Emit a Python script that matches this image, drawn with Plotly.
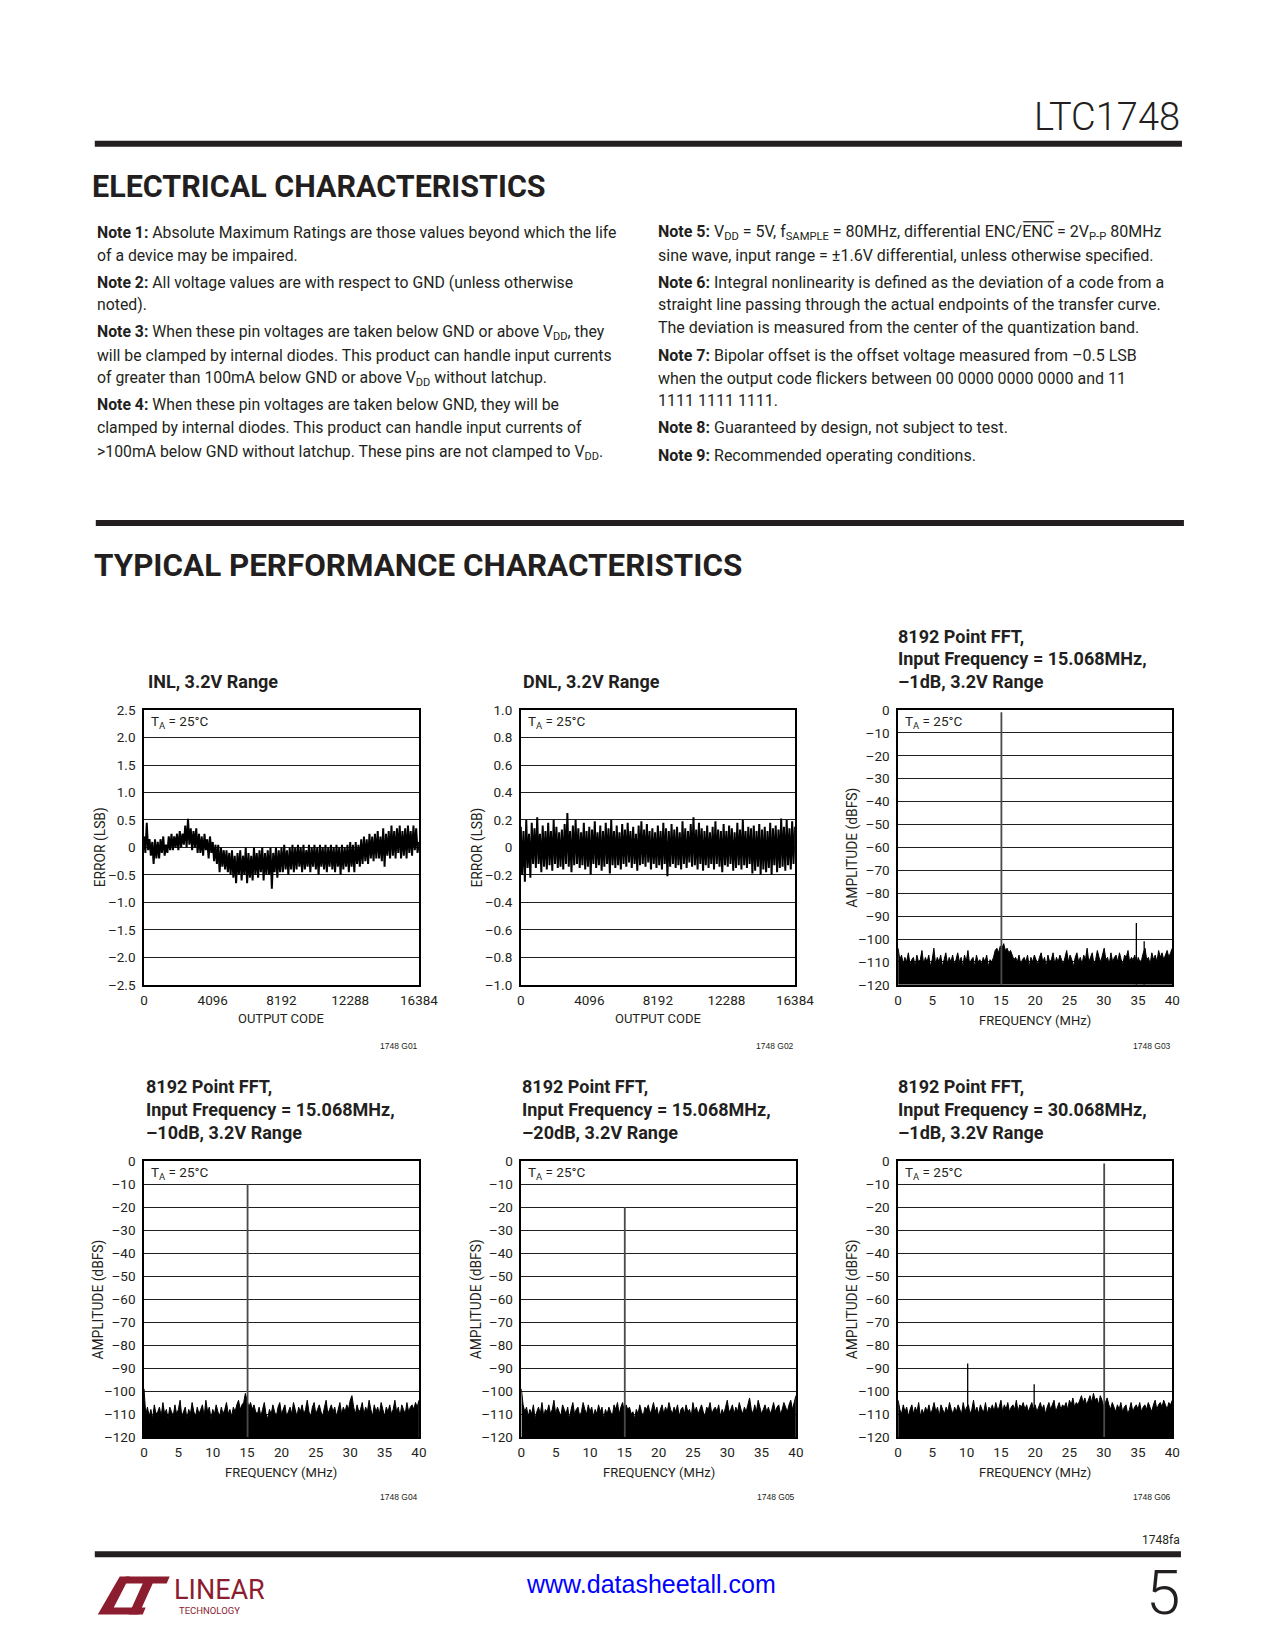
import plotly.graph_objects as go

PAGE_W, PAGE_H = 1275, 1650
BODY_MARGIN = 8  # default page margin of the html body
W, H = PAGE_W - 2 * BODY_MARGIN, PAGE_H - 2 * BODY_MARGIN
# measured relation between page position and photographed position
PHOTO_SX, PHOTO_OX = 0.9834, 2.2
PHOTO_SY, PHOTO_OY = 0.989, 8.6
FONT = "Roboto, Liberation Sans, sans-serif"
SANS = "Liberation Sans, Arial, sans-serif"
INK = "#231F20"
LOGO = "#8C1D2F"

# ---------------- data ----------------
inl_codes_max = 16384
inl_error = [
    0.2, -0.1, 0.45, -0.05, 0.15, -0.15, 0.1, -0.3, 0.15, -0.2,
    0.1, -0.2, 0.15, -0.1, 0.2, -0.15, 0.05, -0.1, 0.2, -0.05,
    0.25, -0.05, 0.2, 0.0, 0.25, -0.05, 0.3, 0.0, 0.25, 0.05,
    0.4, 0.0, 0.52, 0.05, 0.35, -0.05, 0.3, 0.0, 0.35, -0.1,
    0.25, -0.1, 0.2, -0.15, 0.25, -0.05, 0.15, -0.2, 0.2, -0.1,
    0.1, -0.25, 0.05, -0.3, 0.05, -0.45, 0.0, -0.35, -0.05, -0.4,
    -0.05, -0.45, -0.1, -0.5, -0.05, -0.55, -0.15, -0.65, -0.1, -0.5,
    -0.05, -0.6, -0.15, -0.5, 0.0, -0.65, -0.1, -0.55, -0.15, -0.6,
    0.0, -0.5, -0.1, -0.55, -0.05, -0.45, 0.0, -0.6, -0.1, -0.5,
    -0.05, -0.5, 0.0, -0.75, -0.1, -0.45, 0.0, -0.55, -0.05, -0.45,
    0.0, -0.45, 0.05, -0.4, -0.05, -0.5, 0.0, -0.4, 0.05, -0.45,
    0.0, -0.4, 0.05, -0.35, 0.0, -0.45, 0.05, -0.4, -0.05, -0.35,
    0.05, -0.45, 0.0, -0.35, 0.05, -0.4, 0.0, -0.5, 0.05, -0.35,
    0.0, -0.4, 0.05, -0.45, 0.0, -0.35, 0.05, -0.4, 0.0, -0.45,
    0.05, -0.35, 0.0, -0.5, 0.05, -0.4, 0.0, -0.35, 0.05, -0.45,
    0.1, -0.35, 0.05, -0.45, 0.1, -0.3, 0.05, -0.35, 0.15, -0.3,
    0.2, -0.25, 0.15, -0.3, 0.25, -0.2, 0.2, -0.25, 0.25, -0.2,
    0.3, -0.2, 0.2, -0.25, 0.35, -0.35, 0.25, -0.15, 0.3, -0.2,
    0.4, -0.15, 0.3, -0.2, 0.35, -0.1, 0.4, -0.2, 0.3, -0.15,
    0.35, -0.2, 0.4, -0.1, 0.3, -0.15, 0.4, -0.05, 0.35, -0.1, 0.1,
]
dnl_error = [
    0.15, -0.2, 0.12, -0.25, 0.2, -0.15, 0.1, -0.22, 0.18, -0.12,
    0.14, -0.15, 0.22, -0.12, 0.1, -0.18, 0.16, -0.14, 0.12, -0.16,
    0.18, -0.13, 0.12, -0.17, 0.2, -0.12, 0.15, -0.15, 0.11, -0.14,
    0.13, -0.16, 0.17, -0.12, 0.25, -0.14, 0.12, -0.18, 0.16, -0.13,
    0.2, -0.12, 0.14, -0.15, 0.11, -0.13, 0.18, -0.16, 0.12, -0.14,
    0.15, -0.2, 0.13, -0.12, 0.19, -0.15, 0.11, -0.13, 0.16, -0.17,
    0.12, -0.14, 0.18, -0.12, 0.14, -0.19, 0.2, -0.13, 0.12, -0.15,
    0.16, -0.13, 0.11, -0.16, 0.17, -0.12, 0.13, -0.14, 0.18, -0.11,
    0.12, -0.15, 0.15, -0.12, 0.1, -0.17, 0.16, -0.13, 0.19, -0.12,
    0.13, -0.14, 0.17, -0.11, 0.12, -0.16, 0.14, -0.12, 0.11, -0.15,
    0.16, -0.13, 0.12, -0.16, 0.18, -0.12, 0.14, -0.21, 0.12, -0.14,
    0.17, -0.12, 0.13, -0.15, 0.15, -0.13, 0.11, -0.16, 0.19, -0.12,
    0.14, -0.15, 0.12, -0.11, 0.17, -0.14, 0.22, -0.13, 0.13, -0.16,
    0.18, -0.12, 0.14, -0.17, 0.12, -0.13, 0.16, -0.15, 0.11, -0.12,
    0.15, -0.16, 0.19, -0.12, 0.13, -0.14, 0.12, -0.18, 0.17, -0.13,
    0.12, -0.14, 0.16, -0.12, 0.14, -0.17, 0.11, -0.15, 0.18, -0.13,
    0.13, -0.16, 0.2, -0.13, 0.12, -0.15, 0.15, -0.12, 0.14, -0.19,
    0.16, -0.17, 0.12, -0.14, 0.17, -0.2, 0.13, -0.16, 0.15, -0.18,
    0.12, -0.15, 0.18, -0.2, 0.14, -0.13, 0.16, -0.18, 0.13, -0.15,
    0.21, -0.14, 0.15, -0.17, 0.2, -0.13, 0.14, -0.16, 0.19, -0.12, 0.15,
]

fft_span_mhz = 40
noise_g03 = [
    -104, -109, -107, -111, -108, -110, -106, -111, -109, -108, -112, -107, -110, -109, -105, -111, -108,
    -110, -107, -112, -109, -104, -111, -108, -110, -107, -112, -109, -106, -111, -108, -110, -107,
    -111, -109, -106, -110, -108, -112, -107, -110, -105, -111, -109, -108, -112, -107, -110, -109,
    -111, -108, -110, -107, -112, -109, -110, -108, -105, -104, -106, -103, -104, -102, -105, -104,
    -106, -105, -107, -109, -108, -110, -107, -111, -109, -108, -110, -107, -112, -108, -110, -107,
    -109, -111, -108, -106, -110, -108, -112, -107, -110, -109, -106, -111, -108, -110, -107, -109,
    -111, -108, -105, -110, -107, -109, -112, -108, -106, -110, -108, -111, -107, -109, -104, -110,
    -108, -106, -111, -109, -105, -108, -110, -107, -104, -109, -108, -111, -106, -110, -108, -107,
    -110, -106, -109, -111, -107, -108, -105, -110, -108, -109, -107, -111, -108, -110, -109, -106,
    -104, -109, -108, -111, -106, -109, -107, -110, -105, -108, -106, -109, -107, -105, -108, -106, -104,
]
noise_g04 = [
    -99, -110, -107, -111, -108, -112, -106, -110, -109, -107, -111, -105, -110, -108, -112, -107,
    -109, -111, -106, -110, -108, -104, -111, -109, -107, -112, -108, -110, -105, -109, -111, -107,
    -110, -108, -106, -111, -104, -109, -107, -112, -108, -110, -106, -109, -111, -107, -110, -108,
    -105, -110, -108, -111, -107, -109, -106, -104, -108, -106, -105, -101, -104, -107, -105, -108,
    -106, -109, -110, -107, -111, -108, -105, -110, -112, -108, -110, -106, -109, -111, -107, -105,
    -110, -108, -106, -111, -109, -107, -110, -105, -108, -111, -107, -109, -106, -110, -108, -104,
    -109, -111, -107, -105, -110, -108, -106, -109, -111, -107, -104, -110, -108, -106, -109, -107,
    -111, -108, -105, -110, -107, -109, -106, -108, -104, -102, -107, -110, -106, -109, -108, -105,
    -110, -107, -109, -104, -108, -111, -106, -109, -107, -110, -105, -108, -111, -107, -109, -106,
    -110, -108, -104, -109, -107, -111, -106, -108, -110, -105, -109, -107, -106, -108, -105, -107, -104,
]
noise_g05 = [
    -99, -106, -109, -107, -111, -108, -110, -106, -112, -109, -107, -110, -105, -111, -108, -109,
    -106, -110, -108, -104, -110, -107, -109, -111, -106, -108, -110, -107, -112, -108, -105, -110,
    -108, -107, -111, -109, -105, -108, -110, -106, -109, -107, -111, -108, -110, -106, -109, -107,
    -112, -108, -110, -107, -109, -111, -106, -108, -105, -110, -107, -105, -109, -106, -108, -107,
    -110, -109, -112, -108, -110, -106, -109, -111, -107, -108, -106, -110, -108, -105, -109, -107,
    -111, -108, -106, -110, -107, -109, -105, -108, -110, -107, -109, -106, -111, -108, -107, -110,
    -106, -109, -108, -111, -105, -109, -107, -110, -108, -106, -109, -111, -107, -108, -105, -110,
    -108, -107, -109, -106, -111, -108, -110, -107, -104, -109, -108, -106, -110, -107, -109, -105,
    -108, -110, -107, -109, -106, -103, -108, -110, -106, -109, -104, -107, -110, -108, -106, -109,
    -107, -110, -108, -105, -109, -107, -106, -110, -108, -105, -107, -109, -106, -104, -108, -105, -102,
]
noise_g06 = [
    -104, -108, -110, -106, -109, -107, -111, -108, -106, -110, -107, -109, -105, -111, -108, -110,
    -107, -109, -106, -110, -108, -105, -109, -107, -111, -106, -108, -110, -107, -109, -105, -108,
    -110, -107, -109, -106, -108, -110, -105, -109, -107, -106, -110, -108, -104, -109, -107, -110,
    -106, -108, -109, -105, -110, -107, -108, -106, -109, -105, -108, -107, -104, -109, -106, -108,
    -105, -109, -107, -106, -108, -104, -109, -106, -107, -105, -108, -106, -109, -107, -105, -108,
    -106, -109, -107, -105, -108, -106, -110, -107, -105, -108, -106, -104, -109, -107, -105, -108,
    -106, -107, -105, -108, -104, -106, -103, -107, -105, -106, -104, -102, -105, -103, -106, -104,
    -102, -105, -101, -104, -103, -106, -102, -104, -107, -105, -103, -106, -108, -105, -107, -109,
    -106, -108, -105, -109, -107, -106, -110, -108, -105, -109, -107, -106, -108, -105, -109, -107,
    -106, -108, -105, -107, -109, -106, -104, -108, -106, -105, -107, -104, -106, -108, -105, -106, -104,
]
# tones: first entry is the fundamental
tones_g03_mhz = [15.068, 34.76, 35.9]
tones_g03_dbfs = [-1, -93, -101]
tones_g04_mhz = [15.068]
tones_g04_dbfs = [-10]
tones_g05_mhz = [15.068]
tones_g05_dbfs = [-20]
tones_g06_mhz = [30.068, 10.15, 19.85]
tones_g06_dbfs = [-1, -88, -97]

# ticks
inl_yticks = [2.5, 2.0, 1.5, 1.0, 0.5, 0, -0.5, -1.0, -1.5, -2.0, -2.5]
inl_ytext = ["2.5", "2.0", "1.5", "1.0", "0.5", "0", "\u20130.5", "\u20131.0", "\u20131.5", "\u20132.0", "\u20132.5"]
dnl_yticks = [1.0, 0.8, 0.6, 0.4, 0.2, 0, -0.2, -0.4, -0.6, -0.8, -1.0]
dnl_ytext = ["1.0", "0.8", "0.6", "0.4", "0.2", "0", "\u20130.2", "\u20130.4", "\u20130.6", "\u20130.8", "\u20131.0"]
code_xticks = [0, 4096, 8192, 12288, 16384]
fft_yticks = [0, -10, -20, -30, -40, -50, -60, -70, -80, -90, -100, -110, -120]
fft_ytext = ["0"] + ["\u2013%d" % (-v) for v in fft_yticks[1:]]
fft_xticks = [0, 5, 10, 15, 20, 25, 30, 35, 40]

# ---------------- figure ----------------
fig = go.Figure()
annotations = []
shapes = []


def px(x):
    page_x = (x - PHOTO_OX) / PHOTO_SX
    return (page_x - BODY_MARGIN) / W


def py(y):
    page_y = (y - PHOTO_OY) / PHOTO_SY
    return 1 - (page_y - BODY_MARGIN) / H


def ann(x, y, text, size, xanchor="left", yanchor="middle", color=INK, family=FONT, angle=0, weight=None):
    f = dict(family=family, size=size, color=color)
    if weight:
        f["weight"] = weight
    annotations.append(dict(
        x=px(x), y=py(y), xref="paper", yref="paper", text=text, showarrow=False,
        xanchor=xanchor, yanchor=yanchor, textangle=angle, borderpad=0, font=f))


def rect(x0, y0, x1, y1, color=INK):
    shapes.append(dict(type="rect", xref="paper", yref="paper", x0=px(x0), x1=px(x1),
                       y0=py(y1), y1=py(y0), fillcolor=color, line=dict(width=0), layer="above"))


charts = [
    dict(x0=142.3, x1=417.7, y0=709.7, y1=984.2, kind="inl",
         title=["INL, 3.2V Range"], tys=[681], tx=145.7, ylab="ERROR (LSB)", ylx=99, xlab="OUTPUT CODE", xly=1018, gid="1748 G01", gy=1045),
    dict(x0=519.7, x1=794.3, y0=709.7, y1=984.2, kind="dnl",
         title=["DNL, 3.2V Range"], tys=[681], tx=521, ylab="ERROR (LSB)", ylx=476, xlab="OUTPUT CODE", xly=1018, gid="1748 G02", gy=1045),
    dict(x0=897.7, x1=1172.3, y0=709.7, y1=984.2, kind="fft", noise=noise_g03, tf=tones_g03_mhz, ta=tones_g03_dbfs,
         title=["8192 Point FFT,", "Input Frequency = 15.068MHz,", "\u20131dB, 3.2V Range"], tys=[636, 658, 681], tx=896.7,
         ylab="AMPLITUDE (dBFS)", ylx=851.7, xlab="FREQUENCY (MHz)", xly=1020, gid="1748 G03", gy=1045),
    dict(x0=142.3, x1=417.7, y0=1160.3, y1=1435.8, kind="fft", noise=noise_g04, tf=tones_g04_mhz, ta=tones_g04_dbfs,
         title=["8192 Point FFT,", "Input Frequency = 15.068MHz,", "\u201310dB, 3.2V Range"], tys=[1086, 1109, 1132], tx=143.3,
         ylab="AMPLITUDE (dBFS)", ylx=96.7, xlab="FREQUENCY (MHz)", xly=1471.7, gid="1748 G04", gy=1496),
    dict(x0=520.3, x1=795.3, y0=1160.3, y1=1435.8, kind="fft", noise=noise_g05, tf=tones_g05_mhz, ta=tones_g05_dbfs,
         title=["8192 Point FFT,", "Input Frequency = 15.068MHz,", "\u201320dB, 3.2V Range"], tys=[1086, 1109, 1132], tx=520,
         ylab="AMPLITUDE (dBFS)", ylx=475, xlab="FREQUENCY (MHz)", xly=1471.7, gid="1748 G05", gy=1496),
    dict(x0=897.7, x1=1172.3, y0=1160.3, y1=1435.8, kind="fft", noise=noise_g06, tf=tones_g06_mhz, ta=tones_g06_dbfs,
         title=["8192 Point FFT,", "Input Frequency = 30.068MHz,", "\u20131dB, 3.2V Range"], tys=[1086, 1109, 1132], tx=897,
         ylab="AMPLITUDE (dBFS)", ylx=851.7, xlab="FREQUENCY (MHz)", xly=1471.7, gid="1748 G06", gy=1496),
]

layout_axes = {}
TICKFONT = dict(family=FONT, size=13.5, color=INK)
for i, c in enumerate(charts):
    n = "" if i == 0 else str(i + 1)
    xr, yr = "x" + n, "y" + n
    xa = dict(domain=[px(c["x0"]), px(c["x1"])], anchor=yr, showgrid=False, zeroline=False,
              showline=True, mirror=True, linecolor="black", linewidth=1.6, ticks="",
              tickfont=TICKFONT, ticklabelstandoff=2, fixedrange=True)
    ya = dict(domain=[py(c["y1"]), py(c["y0"])], anchor=xr, showgrid=True, gridcolor=INK, gridwidth=1.3,
              zeroline=False, showline=True, mirror=True, linecolor="black", linewidth=1.6, ticks="",
              tickfont=TICKFONT, ticklabelstandoff=4, fixedrange=True)
    if c["kind"] == "inl":
        xa.update(range=[0, inl_codes_max], tickvals=code_xticks, ticktext=[str(v) for v in code_xticks])
        ya.update(range=[-2.5, 2.5], tickvals=inl_yticks, ticktext=inl_ytext)
        xs = [k * inl_codes_max / (len(inl_error) - 1) for k in range(len(inl_error))]
        fig.add_trace(go.Scatter(x=xs, y=inl_error, mode="lines",
                                 line=dict(color="black", width=2.0, simplify=False),
                                 xaxis=xr, yaxis=yr, showlegend=False, hoverinfo="skip"))
    elif c["kind"] == "dnl":
        xa.update(range=[0, inl_codes_max], tickvals=code_xticks, ticktext=[str(v) for v in code_xticks])
        ya.update(range=[-1, 1], tickvals=dnl_yticks, ticktext=dnl_ytext)
        xs = [k * inl_codes_max / (len(dnl_error) - 1) for k in range(len(dnl_error))]
        fig.add_trace(go.Scatter(x=xs, y=dnl_error, mode="lines",
                                 line=dict(color="black", width=2.0, simplify=False),
                                 xaxis=xr, yaxis=yr, showlegend=False, hoverinfo="skip"))
    else:
        xa.update(range=[0, fft_span_mhz], tickvals=fft_xticks, ticktext=[str(v) for v in fft_xticks])
        ya.update(range=[-120, 0], tickvals=fft_yticks, ticktext=fft_ytext)
        noise = c["noise"]
        xs = [k * fft_span_mhz / (len(noise) - 1) for k in range(len(noise))]
        floor = [fft_yticks[-1]] * len(noise)
        fig.add_trace(go.Scatter(x=xs, y=floor, mode="lines", line=dict(width=0, color="black"),
                                 xaxis=xr, yaxis=yr, showlegend=False, hoverinfo="skip"))
        fig.add_trace(go.Scatter(x=xs, y=noise, mode="lines", line=dict(color="black", width=1, simplify=False),
                                 fill="tonexty", fillcolor="black",
                                 xaxis=xr, yaxis=yr, showlegend=False, hoverinfo="skip"))
        fx, fy = [], []
        sx, sy = [], []
        for j, (f, a) in enumerate(zip(c["tf"], c["ta"])):
            tx_, ty_ = (fx, fy) if j == 0 else (sx, sy)
            tx_ += [f, f, None]
            ty_ += [fft_yticks[-1], a, None]
        fig.add_trace(go.Scatter(x=fx, y=fy, mode="lines", line=dict(color="#4a4a4a", width=1.8),
                                 xaxis=xr, yaxis=yr, showlegend=False, hoverinfo="skip"))
        if sx:
            fig.add_trace(go.Scatter(x=sx, y=sy, mode="lines", line=dict(color="black", width=1.3),
                                     xaxis=xr, yaxis=yr, showlegend=False, hoverinfo="skip"))
    layout_axes["xaxis" + n] = xa
    layout_axes["yaxis" + n] = ya

    for line, ty in zip(c["title"], c["tys"]):
        ann(c["tx"], ty, "<b>%s</b>" % line, 18)
    ann(c["x0"] + 6, c["y0"] + 11.5, "T<sub>A</sub> = 25\u00b0C", 13.5)
    ann(c["ylx"], (c["y0"] + c["y1"]) / 2, c["ylab"], 13.8, xanchor="center", angle=-90)
    ann((c["x0"] + c["x1"]) / 2, c["xly"], c["xlab"], 13, xanchor="center")
    ann(c["x1"], c["gy"], c["gid"], 8.5, xanchor="right", family=SANS)

# ---------------- page furniture ----------------
ann(1181, 117.5, "LTC1748", 38, xanchor="right", weight=300)
rect(93, 141, 1182, 147)
ann(89, 187, "<b>ELECTRICAL CHARACTERISTICS</b>", 30.5)
rect(94, 520, 1184, 526)
ann(91.5, 565.5, "<b>TYPICAL PERFORMANCE CHARACTERISTICS</b>", 31.4)

left_notes = [
    "<b>Note 1:</b> Absolute Maximum Ratings are those values beyond which the life",
    "of a device may be impaired.",
    "<b>Note 2:</b> All voltage values are with respect to GND (unless otherwise",
    "noted).",
    "<b>Note 3:</b> When these pin voltages are taken below GND or above V<sub>DD</sub>, they",
    "will be clamped by internal diodes. This product can handle input currents",
    "of greater than 100mA below GND or above V<sub>DD</sub> without latchup.",
    "<b>Note 4:</b> When these pin voltages are taken below GND, they will be",
    "clamped by internal diodes. This product can handle input currents of",
    ">100mA below GND without latchup. These pins are not clamped to V<sub>DD</sub>.",
]
left_y = [232.5, 255.6, 283, 305, 332.4, 355.6, 378.7, 405, 428, 452]
right_notes = [
    "<b>Note 5:</b> V<sub>DD</sub> = 5V, f<sub>SAMPLE</sub> = 80MHz, differential ENC/ENC = 2V<sub>P-P</sub> 80MHz",
    "sine wave, input range = \u00b11.6V differential, unless otherwise specified.",
    "<b>Note 6:</b> Integral nonlinearity is defined as the deviation of a code from a",
    "straight line passing through the actual endpoints of the transfer curve.",
    "The deviation is measured from the center of the quantization band.",
    "<b>Note 7:</b> Bipolar offset is the offset voltage measured from \u20130.5 LSB",
    "when the output code flickers between 00 0000 0000 0000 and 11",
    "1111 1111 1111.",
    "<b>Note 8:</b> Guaranteed by design, not subject to test.",
    "<b>Note 9:</b> Recommended operating conditions.",
]
right_y = [232.5, 255.6, 283, 305, 328, 355.6, 378.7, 401, 428, 455.5]
for t, y in zip(left_notes, left_y):
    ann(94, y, t, 15.8)
for t, y in zip(right_notes, right_y):
    ann(656.5, y, t, 16)
shapes.append(dict(type="line", xref="paper", yref="paper", x0=px(1023), x1=px(1054), y0=py(222), y1=py(222),
                   line=dict(color=INK, width=1.2)))

# footer
ann(1181, 1539, "1748fa", 12, xanchor="right")
rect(93, 1550, 1181, 1556)
ann(650, 1583, "www.datasheetall.com", 25, xanchor="center", color="#0000FF", family=SANS)
ann(1181, 1591, "5", 62, xanchor="right", weight=300)
shapes.append(dict(type="path", xref="paper", yref="paper", fillcolor=LOGO, line=dict(width=0),
                   path="M %f %f L %f %f L %f %f L %f %f L %f %f L %f %f Z" % (
                       px(96), py(1613), px(141), py(1613), px(144), py(1606), px(112), py(1606),
                       px(128), py(1575), px(118), py(1575))))
shapes.append(dict(type="path", xref="paper", yref="paper", fillcolor=LOGO, line=dict(width=0),
                   path="M %f %f L %f %f L %f %f L %f %f L %f %f L %f %f L %f %f L %f %f Z" % (
                       px(124), py(1575), px(168), py(1575), px(165), py(1582), px(151), py(1582),
                       px(137), py(1613), px(127), py(1613), px(141), py(1582), px(121), py(1582))))
ann(171, 1589, "LINEAR", 27, color=LOGO)
ann(176, 1609, "TECHNOLOGY", 9.5, color=LOGO)

fig.update_layout(
    width=W, height=H, autosize=False, margin=dict(l=0, r=0, t=0, b=0),
    paper_bgcolor="white", plot_bgcolor="white",
    annotations=annotations, shapes=shapes, showlegend=False,
    **layout_axes,
)

fig.write_html("out.html", config={"displayModeBar": False, "responsive": False})
